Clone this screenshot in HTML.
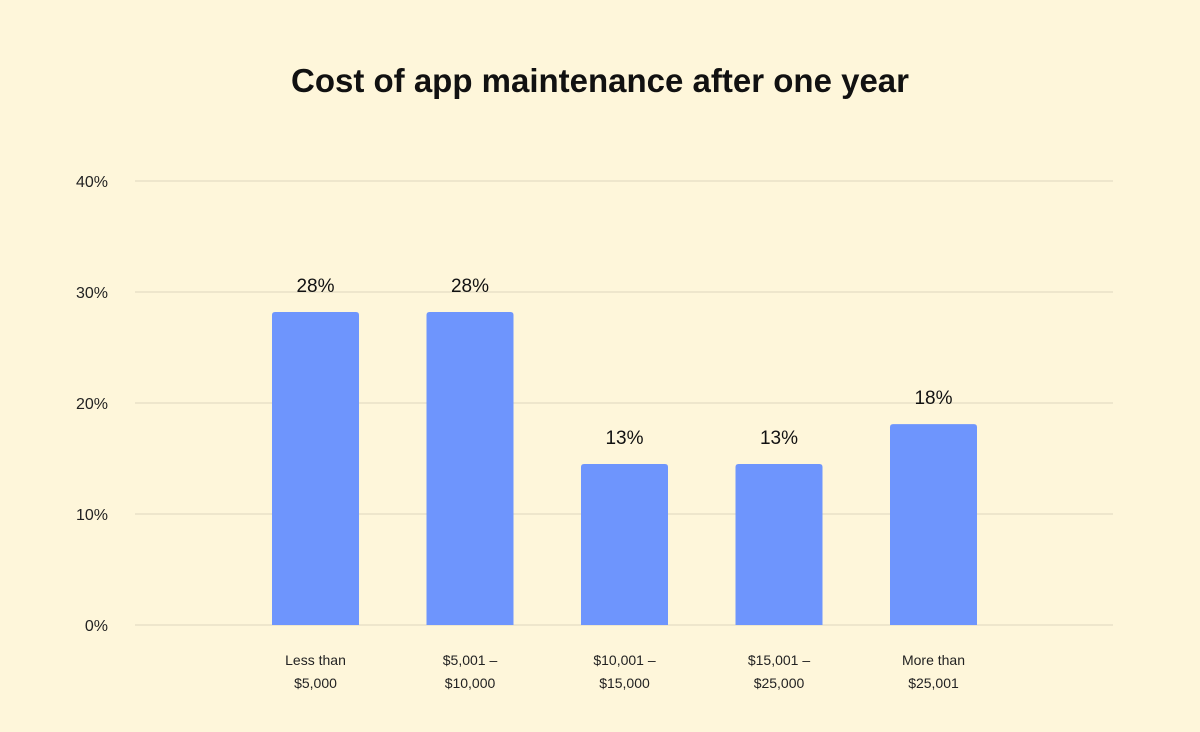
<!DOCTYPE html>
<html><head><meta charset="utf-8"><style>
body{margin:0;background:#fef6da;}
svg{display:block;font-family:"Liberation Sans",sans-serif;}
</style></head><body>
<svg width="1200" height="732">
<rect width="1200" height="732" fill="#fef6da"/>
<text x="600" y="92" text-anchor="middle" font-size="33" font-weight="bold" fill="#111">Cost of app maintenance after one year</text>
<g id="grid"></g><g id="bars"></g>
</svg>
<script>
const categories=[["Less than","$5,000"],["$5,001 –","$10,000"],["$10,001 –","$15,000"],["$15,001 –","$25,000"],["More than","$25,001"]];
const values=[28.2,28.2,14.5,14.5,18.1];
const valueLabels=["28%","28%","13%","13%","18%"];
const yTicks=[0,10,20,30,40];
const ns="http://www.w3.org/2000/svg";
const y0=625,yScale=11.1;
const y=v=>y0-v*yScale;
const x=i=>315.5+i*154.5;
const bw=87;
const grid=document.getElementById('grid'),bars=document.getElementById('bars');
function mk(t,a,p){const e=document.createElementNS(ns,t);for(const k in a)e.setAttribute(k,a[k]);p.appendChild(e);return e;}
yTicks.forEach(t=>{
 const l=mk('line',{x1:135,x2:1113,y1:y(t),y2:y(t),stroke:'#ddd6bd','stroke-width':1},grid);
 
 
 const tx=mk('text',{x:108,y:y(t)+6,'text-anchor':'end','font-size':16,fill:'#222'},grid);
 tx.textContent=t+'%';
 
 
});
values.forEach((v,i)=>{
 const top=y(v),h=y0-top,r=3,x0=x(i)-bw/2;
 const p=mk('path',{d:`M${x0},${y0}V${top+r}Q${x0},${top} ${x0+r},${top}H${x0+bw-r}Q${x0+bw},${top} ${x0+bw},${top+r}V${y0}Z`,fill:'#6e95fd'},bars);
 
 
 const vl=mk('text',{x:x(i),y:top-20,'text-anchor':'middle','font-size':19,fill:'#111'},bars);
 vl.textContent=valueLabels[i];
 
 
 categories[i].forEach((s,j)=>{
  const c=mk('text',{x:x(i),y:665+j*23,'text-anchor':'middle','font-size':14,fill:'#222'},bars);
  c.textContent=s;
  
  
 });
});
</script>
</body></html>
